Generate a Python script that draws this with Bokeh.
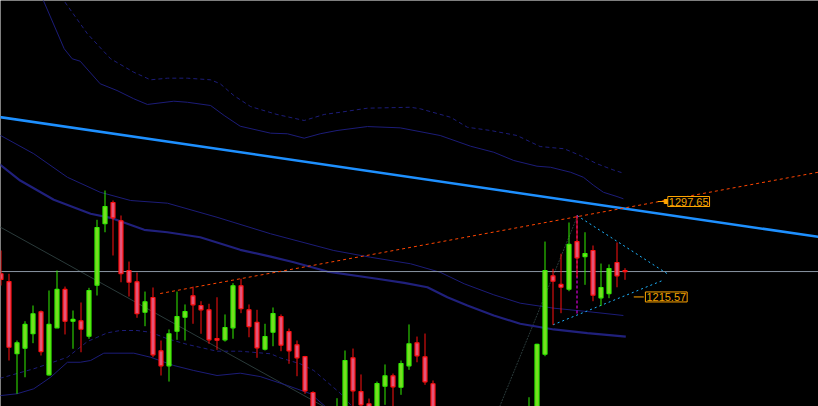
from bokeh.plotting import figure
from bokeh.models import ColumnDataSource, Range1d, Label
from bokeh.embed import file_html
from bokeh.resources import INLINE

# ---------------- candle data (index, open, high, low, close) ----------------
opens = [1235.5, 1228.8, 1166.7, 1171.5, 1183.9, 1202.8, 1148.6, 1189.0, 1222.0, 1194.7,
         1195.0, 1181.8, 1225.7, 1278.5, 1296.8, 1281.0, 1238.3, 1228.6, 1202.4, 1215.1,
         1169.2, 1156.3, 1186.1, 1198.1, 1216.5, 1208.2, 1204.5, 1179.8, 1178.7, 1189.0,
         1225.1, 1204.5, 1193.8, 1170.6, 1185.2, 1198.7, 1185.8, 1174.4, 1164.3, 1133.4,
         1106.0, 1095.0, 1104.0, 1118.0, 1163.2, 1134.2, 1123.7, 1112.0, 1138.8, 1147.7,
         1137.9, 1156.3, 1176.1, 1164.1, 1140.9, 1104.0, 1086.0, 1096.0, 1074.0, 1066.0,
         1085.0, 1060.0, 1082.0, 1098.0, 1090.0, 1106.0, 1100.0, 1116.0, 1166.3, 1233.7,
         1226.3, 1222.2, 1263.2, 1250.3, 1255.5, 1214.8, 1218.5, 1245.2, 1238.3]
highs = [1255.5, 1235.5, 1178.1, 1194.7, 1208.2, 1203.9, 1221.1, 1238.3, 1224.5, 1203.9,
         1210.8, 1223.4, 1281.9, 1307.1, 1298.5, 1285.6, 1246.0, 1236.6, 1220.2, 1223.7,
         1178.1, 1187.6, 1220.2, 1209.1, 1224.5, 1211.9, 1209.7, 1215.3, 1200.5, 1227.4,
         1231.2, 1209.1, 1204.5, 1192.5, 1206.5, 1200.5, 1188.4, 1178.1, 1164.9, 1134.5,
         1112.0, 1110.0, 1128.5, 1169.5, 1171.2, 1148.9, 1128.2, 1142.8, 1157.5, 1149.7,
         1160.9, 1191.9, 1181.5, 1184.1, 1143.7, 1110.0, 1102.0, 1104.0, 1088.0, 1092.0,
         1094.0, 1090.0, 1104.0, 1112.0, 1114.0, 1116.0, 1129.3, 1175.3, 1263.2, 1239.8,
         1252.7, 1279.6, 1285.6, 1271.2, 1259.8, 1244.3, 1243.5, 1262.4, 1240.3]
lows = [1225.4, 1160.9, 1132.3, 1146.5, 1175.8, 1165.2, 1148.0, 1189.0, 1183.3, 1171.0,
        1168.0, 1179.6, 1216.8, 1271.2, 1251.2, 1228.2, 1215.9, 1197.6, 1190.4, 1163.7,
        1148.0, 1142.8, 1178.7, 1178.1, 1192.5, 1183.9, 1175.3, 1170.1, 1177.2, 1179.6,
        1201.6, 1180.9, 1163.2, 1169.5, 1173.2, 1168.9, 1158.1, 1147.4, 1132.3, 1100.0,
        1090.0, 1088.0, 1098.0, 1112.0, 1118.0, 1114.0, 1104.0, 1108.0, 1122.8, 1116.0,
        1131.4, 1152.9, 1159.4, 1140.0, 1098.0, 1080.0, 1078.0, 1070.0, 1060.0, 1058.0,
        1052.0, 1054.0, 1076.0, 1084.0, 1086.0, 1094.0, 1096.0, 1110.0, 1164.6, 1191.6,
        1201.6, 1220.5, 1232.5, 1226.0, 1211.9, 1207.9, 1214.5, 1223.9, 1230.3]
closes = [1230.6, 1172.3, 1176.1, 1191.9, 1201.1, 1168.6, 1191.9, 1222.0, 1194.7, 1196.2,
          1187.8, 1221.1, 1275.3, 1293.3, 1283.6, 1235.5, 1228.2, 1201.1, 1211.4, 1165.8,
          1156.3, 1183.9, 1198.7, 1203.0, 1208.8, 1204.5, 1178.7, 1178.4, 1189.3, 1225.1,
          1205.4, 1190.1, 1171.8, 1181.5, 1201.3, 1174.1, 1169.2, 1163.2, 1134.8, 1106.0,
          1095.0, 1104.0, 1118.0, 1160.9, 1134.8, 1122.8, 1112.0, 1141.1, 1147.7, 1138.3,
          1158.3, 1175.3, 1164.9, 1142.6, 1104.0, 1086.0, 1096.0, 1074.0, 1066.0, 1085.0,
          1060.0, 1082.0, 1098.0, 1090.0, 1106.0, 1100.0, 1118.0, 1174.7, 1238.3, 1229.1,
          1223.9, 1260.7, 1249.2, 1252.9, 1217.1, 1223.7, 1240.0, 1233.7, 1237.4]
bars = list(range(len(opens)))

# ---------------- envelope / channel curves (bar index, price) ----------------
upper_solid_x = [4.0, 5.3, 7.9, 8.9, 9.9, 12.4, 14.5, 16.6, 18.3, 21.6, 23.3, 26.2, 27.9, 29.9,
                 33.7, 35.8, 37.9, 39.9, 42.0, 45.8, 49.9, 54.9, 58.7, 61.6, 64.1, 67.0, 68.7,
                 71.2, 72.8, 74.1, 75.3, 77.0, 77.8]
upper_solid_y = [1491.0, 1470.5, 1429.0, 1420.4, 1418.3, 1398.9, 1393.1, 1386.0, 1381.1, 1383.9,
                 1383.0, 1380.2, 1371.6, 1362.4, 1356.4, 1355.9, 1352.1, 1355.9, 1358.7, 1362.1,
                 1361.0, 1354.4, 1345.2, 1340.0, 1332.9, 1328.0, 1327.1, 1322.8, 1318.5, 1311.4,
                 1305.6, 1301.9, 1300.0]
upper_dash_x = [6.5, 7.85, 10.8, 13.7, 16.6, 18.7, 20.8, 23.3, 26.2, 27.4, 29.1, 31.2, 34.5,
                37.9, 40.4, 42.4, 45.8, 51.2, 52.4, 56.2, 58.3, 61.2, 64.5, 67.4, 70.4, 72.4,
                74.5, 76.5, 77.8]
upper_dash_y = [1484.0, 1470.5, 1441.9, 1420.4, 1408.8, 1402.3, 1403.7, 1403.7, 1402.3, 1398.9,
                1388.8, 1379.3, 1372.5, 1367.3, 1372.5, 1374.4, 1377.9, 1378.7, 1377.4, 1370.1,
                1361.5, 1358.7, 1354.4, 1344.9, 1343.0, 1337.2, 1330.1, 1324.9, 1322.0]
mid_thin_x = [-1.0, 4.1, 8.3, 12.4, 16.2, 20.8, 27.0, 33.7, 41.6, 46.2, 51.2, 54.9, 57.9, 61.6,
              64.9, 69.1, 73.3, 77.8]
mid_thin_y = [1358.0, 1338.7, 1318.5, 1305.6, 1298.5, 1296.2, 1284.1, 1269.9, 1255.5, 1249.7,
              1244.1, 1236.8, 1226.9, 1217.4, 1210.2, 1205.9, 1203.0, 1199.6]
mid_thick_x = [-1.0, 2.4, 6.6, 11.2, 13.7, 17.9, 20.8, 24.9, 29.9, 33.7, 36.6, 40.8, 47.0, 50.4,
               53.3, 55.8, 58.3, 61.6, 64.9, 69.1, 73.3, 78.1]
mid_thick_y = [1334.0, 1315.7, 1299.1, 1287.1, 1283.6, 1273.3, 1271.2, 1266.9, 1256.1, 1250.3,
               1245.4, 1237.4, 1231.2, 1227.7, 1223.9, 1215.3, 1208.2, 1199.6, 1192.5, 1187.6,
               1184.4, 1181.5]
lower_dash_x = [-1.0, 0.35, 4.1, 8.3, 10.8, 13.3, 14.9, 17.0, 18.7, 20.8, 23.3, 27.0, 29.9,
                33.7, 34.9, 37.4, 39.1, 40.8, 42.4, 43.9, 45.0]
lower_dash_y = [1144.0, 1146.5, 1153.8, 1163.7, 1177.2, 1184.7, 1186.7, 1186.7, 1185.2, 1179.6,
                1174.7, 1168.9, 1168.9, 1166.7, 1163.2, 1158.1, 1152.3, 1142.2, 1132.8, 1121.3,
                1112.0]
lower_solid_x = [-1.0, 2.0, 4.1, 6.2, 8.3, 9.9, 11.2, 12.85, 16.6, 18.7, 21.6, 24.1, 27.0, 29.9,
                 32.4, 35.8, 38.7, 40.4, 41.8]
lower_solid_y = [1130.0, 1132.3, 1136.6, 1146.5, 1159.4, 1159.4, 1160.9, 1167.2, 1167.2, 1163.7,
                 1156.6, 1152.3, 1148.0, 1150.0, 1147.1, 1139.4, 1132.3, 1122.2, 1112.7]

# ---------------- drawn objects (bar index, price) ----------------
trend_blue_x = [-1.0, 103.0]
trend_blue_y = [1371.1, 1266.4]
trend_red_x = [19.9, 102.3]
trend_red_y = [1218.5, 1323.0]
gray_line1_x = [-1.0, 45.0]
gray_line1_y = [1279.1, 1103.6]
gray_line2_x = [61.2, 72.0]
gray_line2_y = [1102.2, 1284.1]
tri_upper_x = [72.0, 83.5]
tri_upper_y = [1285.6, 1234.6]
tri_lower_x = [69.0, 82.9]
tri_lower_y = [1191.6, 1230.3]
tri_vert_x = [72.0, 72.0]
tri_vert_y = [1285.6, 1200.0]
bid_price = closes[-1]

price_labels = ["1297.65", "1215.57"]
label_values = [1297.65, 1215.57]
label_stub_x0 = [82.1, 79.1]
label_stub_x1 = [83.15, 80.35]

# ---------------- figure ----------------
W, H = 818, 406
p = figure(width=W, height=H, output_backend="svg", toolbar_location=None,
           x_range=Range1d(-0.0625, 102.1875), y_range=Range1d(1121.35, 1470.51),
           background_fill_color="black", border_fill_color="black",
           min_border=0, outline_line_color=None)
p.xaxis.visible = False
p.yaxis.visible = False
p.grid.visible = False

NAVY = "#1c1c78"

# gray slanted lines
p.line(gray_line1_x, gray_line1_y, line_color="#2a3a3a", line_width=1)
p.line(gray_line2_x, gray_line2_y, line_color="#2a3a3a", line_width=1, line_dash="2 1")

# envelopes
p.line(upper_solid_x, upper_solid_y, line_color=NAVY, line_width=1)
p.line(upper_dash_x, upper_dash_y, line_color=NAVY, line_width=1, line_dash="4 3")
p.line(mid_thin_x, mid_thin_y, line_color=NAVY, line_width=1)
p.line(mid_thick_x, mid_thick_y, line_color="#20207c", line_width=2.2)
p.line(lower_dash_x, lower_dash_y, line_color=NAVY, line_width=1, line_dash="4 3")
p.line(lower_solid_x, lower_solid_y, line_color=NAVY, line_width=1)

# bid line
p.line([-1, 103], [bid_price, bid_price], line_color="#8a96a3", line_width=1)

# trend lines
p.line(trend_blue_x, trend_blue_y, line_color="#1e90ff", line_width=2.5)
p.line(trend_red_x, trend_red_y, line_color="#ff4500", line_width=1, line_dash="3 3")

# triangle
p.line(tri_vert_x, tri_vert_y, line_color="#ff00ff", line_width=1, line_dash="3 2")
p.line(tri_upper_x, tri_upper_y, line_color="#1eb4ff", line_width=1, line_dash="2 3")
p.line(tri_lower_x, tri_lower_y, line_color="#1eb4ff", line_width=1, line_dash="2 3")

# candles
up_i = [i for i in bars if closes[i] >= opens[i]]
dn_i = [i for i in bars if closes[i] < opens[i]]


def src(idx):
    return ColumnDataSource(dict(
        x=[bars[i] for i in idx],
        high=[highs[i] for i in idx],
        low=[lows[i] for i in idx],
        top=[max(opens[i], closes[i]) for i in idx],
        bottom=[min(opens[i], closes[i]) for i in idx],
    ))


s_up = src(up_i)
s_dn = src(dn_i)
p.segment(x0="x", y0="low", x1="x", y1="high", source=s_up, line_color="#33ee00", line_width=1)
p.segment(x0="x", y0="low", x1="x", y1="high", source=s_dn, line_color="#ff1010", line_width=1)
p.vbar(x="x", top="top", bottom="bottom", width=0.5, source=s_up,
       fill_color="#78dc22", line_color="#33ee00", line_width=1.2)
p.vbar(x="x", top="top", bottom="bottom", width=0.5, source=s_dn,
       fill_color="#e4557a", line_color="#ff1010", line_width=1.2)

# price labels
for txt, val, x0, x1 in zip(price_labels, label_values, label_stub_x0, label_stub_x1):
    p.line([x0, x1], [val, val], line_color="#ffa500", line_width=1)
    p.add_layout(Label(x=x1 + 0.2, y=val, text=txt, text_font="Liberation Sans",
                       text_font_size="11px", text_color="#f0a000",
                       text_align="left", text_baseline="middle",
                       background_fill_color="black", border_line_color="#ffa500",
                       border_line_width=1, padding=1))
p.scatter([label_stub_x1[0]], [label_values[0]], marker="square", size=4,
          fill_color="#ffa500", line_color="#ffa500")

open("out.html", "w").write(file_html(p, INLINE))
